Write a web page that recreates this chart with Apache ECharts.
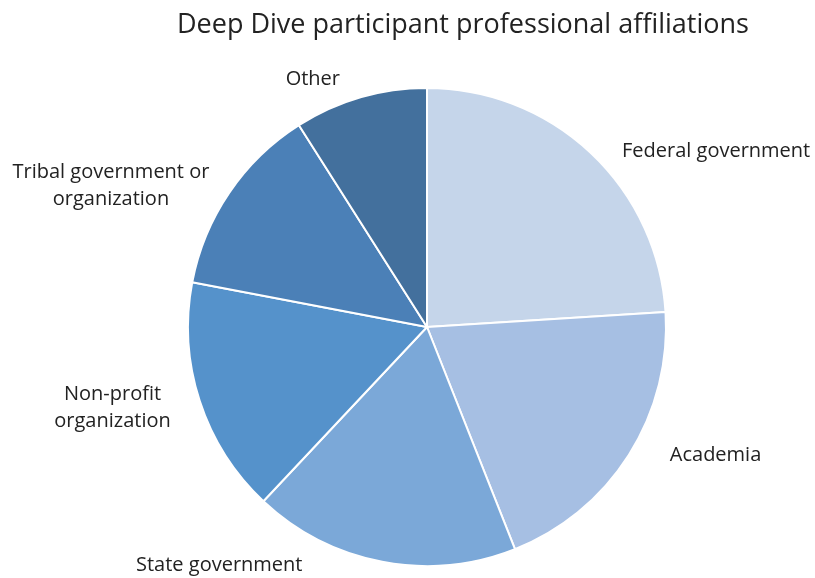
<!DOCTYPE html>
<html>
<head>
<meta charset="utf-8">
<script src="https://cdn.jsdelivr.net/npm/echarts@6/dist/echarts.min.js"></script>
<style>
  html, body { margin: 0; padding: 0; background: #fff; }
  #main { width: 815px; height: 578px; }
</style>
</head>
<body>
<div id="main"></div>
<script>
// affiliations, clockwise from 12 o'clock
var categories = ['Federal government', 'Academia', 'State government',
  'Non-profit\norganization', 'Tribal government or\norganization', 'Other'];
var values = [24, 20, 18, 16, 13, 9];
var colors = ['#c5d5ea', '#a6bfe3', '#7ba8d8', '#5592cb', '#4b80b7', '#43709d'];
// hidden leader line lengths, only used to push each label to its spot
var lineLen = [2, 0, 4, 21, 12, 19];
var lineLen2 = [25, 36, 74, 4, 5, 10];

var myChart = echarts.init(document.getElementById('main'));

var seriesData = [];
for (var i = 0; i < categories.length; i++) {
  seriesData.push({
    name: categories[i],
    value: values[i],
    itemStyle: { color: colors[i] },
    labelLine: { length: lineLen[i], length2: lineLen2[i] }
  });
}

var option = {
  backgroundColor: '#fff',
  animation: false,
  title: {
    text: 'Deep Dive participant professional affiliations',
    left: 172,
    top: 7,
    textStyle: {
      fontFamily: 'Open Sans',
      fontSize: 27,
      fontWeight: 'normal',
      color: '#222'
    }
  },
  series: [{
    type: 'pie',
    center: [427, 327],
    radius: [0, 239],
    startAngle: 90,
    clockwise: true,
    avoidLabelOverlap: false,
    data: seriesData,
    itemStyle: { borderColor: '#fff', borderWidth: 2 },
    label: {
      show: true,
      position: 'outside',
      color: '#222',
      overflow: 'none',
      formatter: function (p) {
        // centre each line of the wrapped labels
        return p.name.split('\n').map(function (s) { return '{c|' + s + '}'; }).join('\n');
      },
      rich: {
        c: {
          fontFamily: 'Open Sans',
          fontSize: 20,
          color: '#222',
          lineHeight: 27,
          align: 'center'
        }
      }
    },
    labelLine: { show: false },
    emphasis: { disabled: true }
  }]
};
myChart.setOption(option);
</script>
</body>
</html>
